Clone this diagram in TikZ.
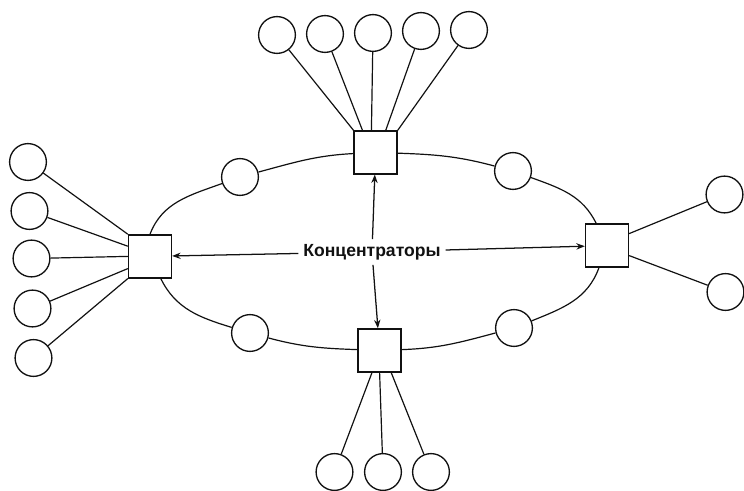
\documentclass[tikz,border=0pt]{standalone}
\usepackage{fontspec}
\setsansfont{Liberation Sans}
\usepackage{tikz}
\usetikzlibrary{positioning, arrows.meta}
\definecolor{ink}{RGB}{17,17,17}

\begin{document}
\begin{tikzpicture}[
  on grid,
  hub/.style={draw=ink, rectangle, minimum size=1.07cm, inner sep=0pt, line width=1.1pt},
  station/.style={draw=ink, circle, minimum size=0.92cm, inner sep=0pt, line width=0.95pt},
  link/.style={draw=ink, line width=0.85pt},
  arr/.style={-{Stealth[length=6pt, width=4.5pt]}, line width=0.9pt, color=ink},
  caption/.style={font=\sffamily\bfseries\fontsize{12.5}{15}\selectfont, text=ink},
]
  \useasboundingbox (-9.3,-5.975) rectangle (9.3,6.3);

  \node[caption] (hubs) at (0,0) {Концентраторы};

  % Hubs on the ring
  \node[hub, above right=2.49cm and 0.09cm of hubs] (hubtop) {};
  \node[hub, below left=0.11cm and 5.55cm of hubs] (hubleft) {};
  \node[hub, above right=0.16cm and 5.875cm of hubs] (hubright) {};
  \node[hub, below right=2.46cm and 0.19cm of hubs] (hubbottom) {};

  % Stations on the ring
  \node[station, above left=1.875cm and 3.3cm of hubs] (stnw) {};
  \node[station, above right=2.025cm and 3.525cm of hubs] (stne) {};
  \node[station, below left=2.025cm and 3.05cm of hubs] (stsw) {};
  \node[station, below right=1.9cm and 3.55cm of hubs] (stse) {};

  % Stations hanging off the hubs
  \node[station, above left=2.935cm and 2.465cm of hubtop] (top1) {};
  \node[station, above left=2.96cm and 1.265cm of hubtop] (top2) {};
  \node[station, above left=2.985cm and 0.065cm of hubtop] (top3) {};
  \node[station, above right=3.035cm and 1.135cm of hubtop] (top4) {};
  \node[station, above right=3.06cm and 2.335cm of hubtop] (top5) {};

  \node[station, above left=2.36cm and 3.05cm of hubleft] (left1) {};
  \node[station, above left=1.135cm and 3.0125cm of hubleft] (left2) {};
  \node[station, below left=0.0525cm and 2.9625cm of hubleft] (left3) {};
  \node[station, below left=1.3025cm and 2.9375cm of hubleft] (left4) {};
  \node[station, below left=2.54cm and 2.9125cm of hubleft] (left5) {};

  \node[station, above right=1.2775cm and 2.9375cm of hubright] (right1) {};
  \node[station, below right=1.16cm and 2.9625cm of hubright] (right2) {};

  \node[station, below left=3.04cm and 1.1275cm of hubbottom] (bot1) {};
  \node[station, below right=3.04cm and 0.085cm of hubbottom] (bot2) {};
  \node[station, below right=3.04cm and 1.285cm of hubbottom] (bot3) {};

  % Ring
  \draw[link] (hubleft.north) to[out=69, in=200] (stnw);
  \draw[link] (stnw) to[out=15, in=183] (hubtop);
  \draw[link] (hubtop) to[out=-2, in=165] (stne);
  \draw[link] (stne) to[out=-20, in=116] (hubright);
  \draw[link] (hubright) to[out=250, in=22] (stse);
  \draw[link] (stse) to[out=195, in=2] (hubbottom);
  \draw[link] (hubbottom) to[out=178, in=-15] (stsw);
  \draw[link] (stsw) to[out=163, in=296] (hubleft);

  % Star links
  \draw[link] (hubtop.north west) -- (top1);
  \draw[link] ([xshift=0.225cm]hubtop.north west) -- (top2);
  \draw[link] ([xshift=0.45cm]hubtop.north west) -- (top3);
  \draw[link] ([xshift=-0.3cm]hubtop.north east) -- (top4);
  \draw[link] (hubtop.north east) -- (top5);

  \draw[link] (hubleft.north west) -- (left1);
  \draw[link] ([yshift=-0.3cm]hubleft.north west) -- (left2);
  \draw[link] (hubleft.west) -- (left3);
  \draw[link] ([yshift=0.25cm]hubleft.south west) -- (left4);
  \draw[link] (hubleft.south west) -- (left5);

  \draw[link] ([yshift=0.3cm]hubright.east) -- (right1);
  \draw[link] ([yshift=-0.25cm]hubright.east) -- (right2);

  \draw[link] ([xshift=-0.19cm]hubbottom.south) -- (bot1);
  \draw[link] (hubbottom.south) -- (bot2);
  \draw[link] ([xshift=0.29cm]hubbottom.south) -- (bot3);

  % Caption arrows
  \draw[arr] (hubs) -- (hubtop);
  \draw[arr] (hubs) -- (hubbottom);
  \draw[arr] (hubs) -- (hubleft);
  \draw[arr] (hubs) -- (hubright);
\end{tikzpicture}
\end{document}
